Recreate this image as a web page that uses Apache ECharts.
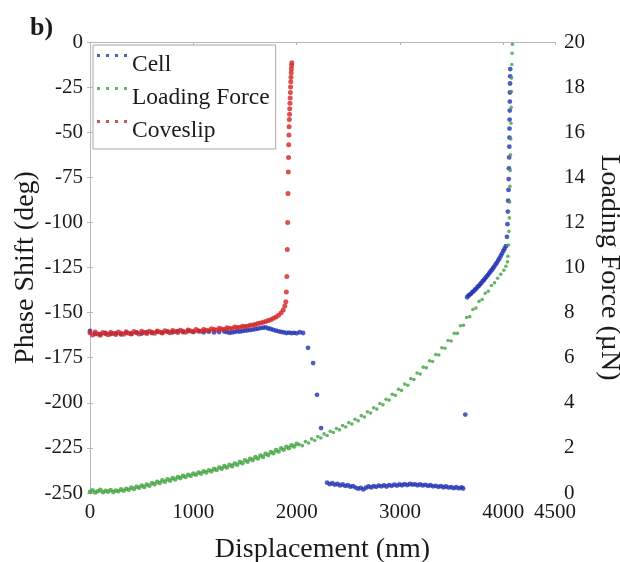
<!DOCTYPE html>
<html>
<head>
<meta charset="utf-8">
<script src="https://cdn.jsdelivr.net/npm/echarts@6/dist/echarts.min.js"></script>
<style>
html,body{margin:0;padding:0;background:#fff;overflow:hidden;}
#chart{width:620px;height:562px;}
</style>
</head>
<body>
<div id="chart"></div>
<script>
// ---------- data ----------
const seriesNames = ['Cell', 'Loading Force', 'Coveslip'];
const xTicks = [0, 1000, 2000, 3000, 4000, 4500];

// Coveslip (left axis, deg): flat band, then near-vertical rise
const slipBand = [
  [0,-161.2],[25,-162.4],[50,-160.8],[75,-161.9],[100,-162.6],[125,-161.0],[150,-161.7],[175,-162.3],
  [200,-160.9],[225,-161.6],[250,-162.1],[275,-160.7],[300,-161.4],[325,-162.0],[350,-160.6],[375,-161.5],
  [400,-161.9],[425,-160.5],[450,-161.2],[475,-161.8],[500,-160.4],[525,-161.1],[550,-161.6],[575,-160.3],
  [600,-160.9],[625,-161.5],[650,-160.2],[675,-160.8],[700,-161.3],[725,-160.1],[750,-160.6],[775,-161.2],
  [800,-159.9],[825,-160.5],[850,-161.0],[875,-159.8],[900,-160.3],[925,-160.9],[950,-159.6],[975,-160.2],
  [1000,-160.6],[1025,-159.4],[1050,-160.0],[1075,-160.4],[1100,-159.3],[1125,-159.8],[1150,-160.1],[1175,-159.0],
  [1200,-159.4],[1225,-159.7],[1250,-158.7],[1275,-159.1],[1300,-159.3],[1325,-158.4],[1350,-158.7],[1375,-158.9],
  [1400,-158.0],[1425,-158.2],[1450,-158.3],[1475,-157.6],[1500,-157.7],[1525,-157.6],[1550,-157.0],[1575,-156.9],
  [1600,-156.6],[1625,-156.1],[1650,-155.8],[1675,-155.4],[1700,-155.0],[1725,-154.4],[1750,-153.9],[1775,-153.2],
  [1800,-152.4],[1825,-151.4],[1850,-150.1],[1870,-148.6],[1885,-146.3]
];
const slipRise = [
  [1895,-144],[1900,-138.6],[1905,-130],[1909,-115],[1913,-100],[1916,-84],[1919,-72],[1921,-64],
  [1923,-57],[1925,-51.5],[1927,-47],[1929,-43],[1931,-40],[1933,-37],[1935,-34],[1937,-31],
  [1939,-28],[1941,-25],[1943,-22],[1945,-19.5],[1947,-17],[1949,-15],[1951,-13],[1953,-11.5]
];

// Cell (left axis, deg)
const cellFlat = [
  [0,-160.2],[50,-161.8],[100,-162.0],[150,-161.3],[200,-161.9],[250,-161.5],[300,-162.1],[350,-161.2],
  [400,-161.7],[450,-161.0],[500,-161.6],[550,-160.8],[600,-161.3],[650,-160.6],[700,-161.1],[750,-160.5],
  [800,-160.9],[850,-160.3],[900,-160.8],[950,-160.2],[1000,-160.7],[1050,-160.4],[1100,-160.9],[1150,-160.6],
  [1200,-161.0],[1250,-160.8],[1300,-160.5],[1325,-160.8],[1350,-161.2],[1375,-161.0],[1400,-160.7],[1425,-160.4],
  [1450,-160.6],[1475,-160.2],[1500,-160.0],[1525,-159.8],[1550,-159.7],[1575,-159.4],[1600,-159.2],[1625,-158.9],
  [1650,-158.6],[1675,-158.4],[1700,-158.2],[1725,-158.8],[1750,-159.1],[1775,-159.6],[1800,-160.0],[1825,-160.4],
  [1850,-160.7],[1875,-161.0],[1900,-161.3],[1925,-161.1],[1950,-161.4],[1975,-161.2],[2000,-161.5],[2030,-160.9],
  [2062,-161.3]
];
const cellDrop = [[2110,-169.5],[2159,-178],[2197,-195.6],[2236,-214]];
const cellBottom = [
  [2294,-244.3],[2320,-245.1],[2345,-244.6],[2370,-245.4],[2395,-245.0],[2420,-245.8],[2445,-245.3],[2470,-246.1],
  [2495,-245.7],[2520,-246.5],[2545,-246.2],[2570,-247.0],[2595,-247.6],[2620,-247.2],[2645,-248.0],[2670,-247.1],
  [2695,-246.4],[2720,-246.9],[2745,-246.2],[2770,-246.6],[2795,-245.9],[2820,-246.3],[2845,-245.8],[2870,-246.4],
  [2895,-245.6],[2920,-246.0],[2945,-245.4],[2970,-245.9],[2995,-245.3],[3020,-245.7],[3045,-245.1],[3070,-245.6],
  [3095,-245.0],[3120,-245.4],[3145,-245.2],[3170,-245.7],[3195,-245.3],[3220,-245.8],[3245,-245.5],[3270,-246.0],
  [3295,-245.7],[3320,-246.3],[3345,-246.0],[3370,-246.6],[3395,-246.2],[3420,-246.8],[3445,-246.4],[3470,-247.0],
  [3495,-246.7],[3520,-247.3],[3545,-246.8],[3570,-247.4],[3595,-246.9],[3611,-247.5]
];
const cellOutlier = [[3632,-206.5]];
const cellUpper = [
  [3650,-141.5],[3662,-140.6],[3675,-140.0],[3687,-139.6],[3700,-138.7],[3712,-138.2],[3725,-137.3],[3737,-136.8],
  [3750,-135.8],[3762,-135.2],[3775,-134.3],[3787,-133.6],[3800,-132.6],[3812,-131.9],[3825,-131.0],[3837,-130.1],
  [3850,-129.2],[3862,-128.3],[3875,-127.3],[3887,-126.5],[3900,-125.4],[3912,-124.5],[3925,-123.3],[3937,-122.4],
  [3950,-121.1],[3962,-120.0],[3975,-118.6],[3987,-117.3],[4000,-115.8],[4012,-114.6],[4025,-113.2]
];
const cellRise = [
  [4035,-108],[4040,-101],[4044,-94],[4047,-88],[4050,-82],[4052,-76],[4054,-70],[4056,-64],[4058,-58],
  [4059,-53],[4060,-48],[4061,-43],[4062,-38],[4063,-33],[4064,-28],[4065,-23],[4066,-19],[4067,-15]
];

// Loading Force (right axis, µN)
const forceLow = [
  [0,0.05],[25,0.12],[50,0.02],[75,0.08],[100,0.14],[125,0.03],[150,0.10],[175,0.06],[200,0.13],[225,0.04],
  [250,0.11],[275,0.08],[300,0.16],[325,0.10],[350,0.19],[375,0.14],[400,0.24],[425,0.18],[450,0.28],[475,0.23],
  [500,0.33],[525,0.27],[550,0.38],[575,0.32],[600,0.44],[625,0.39],[650,0.50],[675,0.44],[700,0.56],[725,0.50],
  [750,0.61],[775,0.55],[800,0.66],[825,0.60],[850,0.71],[875,0.66],[900,0.76],[925,0.71],[950,0.81],[975,0.76],
  [1000,0.86],[1025,0.81],[1050,0.91],[1075,0.86],[1100,0.96],[1125,0.91],[1150,1.01],[1175,0.96],[1200,1.07],[1225,1.02],
  [1250,1.13],[1275,1.08],[1300,1.19],[1325,1.13],[1350,1.25],[1375,1.19],[1400,1.31],[1425,1.25],[1450,1.38],[1475,1.32],
  [1500,1.45],[1525,1.39],[1550,1.52],[1575,1.46],[1600,1.59],[1625,1.53],[1650,1.66],[1675,1.60],[1700,1.74],[1725,1.68],
  [1750,1.82],[1775,1.76],[1800,1.90],[1825,1.84],[1850,1.98],[1875,1.92],[1900,2.05],[1925,1.99],[1950,2.12],[1975,2.06],
  [2000,2.18]
];
const forceMid = [
  [2025,2.15],[2055,2.10],[2085,2.28],[2115,2.22],[2145,2.40],[2175,2.33],[2205,2.50],[2235,2.44],[2265,2.62],[2295,2.55],
  [2325,2.74],[2355,2.68],[2385,2.86],[2415,2.80],[2445,2.99],[2475,2.93],[2505,3.12],[2535,3.06],[2565,3.27],[2595,3.20],
  [2625,3.43],[2655,3.37],[2685,3.60],[2715,3.55],[2745,3.78],[2775,3.72],[2805,3.97],[2835,3.91],[2865,4.16],[2895,4.12],
  [2925,4.38],[2955,4.33],[2985,4.60],[3015,4.55],[3045,4.83],[3075,4.78],[3105,5.07],[3135,5.03],[3165,5.32],[3195,5.28],
  [3225,5.58],[3255,5.55],[3285,5.86],[3315,5.83],[3345,6.14],[3375,6.12],[3405,6.44],[3435,6.42],[3465,6.76],[3495,6.74],
  [3525,7.08],[3555,7.08],[3585,7.42],[3615,7.44],[3645,7.78],[3675,7.82],[3705,8.14],[3735,8.20],[3765,8.50],[3795,8.58],
  [3825,8.86],[3855,8.95],[3885,9.20],[3915,9.32],[3945,9.52],[3975,9.70],[4005,9.88],[4025,10.05],[4040,10.25]
];
const forceRise = [
  [4045,10.5],[4050,11.0],[4054,11.6],[4058,12.2],[4061,12.9],[4064,13.6],[4067,14.3],[4070,15.0],
  [4072,15.7],[4074,16.4],[4076,17.1],[4078,17.8],[4080,18.4],[4082,19.0],[4085,19.5],[4088,19.9]
];

// ---------- chart ----------
const FONT = 'Liberation Serif';
const TXT = '#1a1a1a';
const AXC = '#b8b8b8';
const dotsIcon = 'path://M0 0h3v3h-3z M9 0h3v3h-3z M18 0h3v3h-3z M27 0h3v3h-3z M0 22L0.01 22';

const chart = echarts.init(document.getElementById('chart'), null, {renderer: 'canvas', width: 620, height: 562});
chart.setOption({
  animation: false,
  backgroundColor: '#ffffff',
  title: {
    text: 'b)', left: 25, top: 10,
    textStyle: {fontFamily: FONT, fontWeight: 'bold', fontSize: 26, color: TXT}
  },
  grid: {left: 90, right: 65, top: 42, bottom: 69, containLabel: false, outerBoundsMode: 'none'},
  legend: {
    data: seriesNames,
    orient: 'vertical', left: 93, top: 45,
    backgroundColor: '#fff', borderColor: '#a8a8a8', borderWidth: 1,
    padding: [8, 6, 6, 4],
    icon: dotsIcon, itemWidth: 30, itemHeight: 25, itemGap: 9, itemTextGap: 4,
    textStyle: {fontFamily: FONT, fontSize: 23.5, color: TXT}
  },
  xAxis: [{
    type: 'value', position: 'bottom', min: 0, max: 4500, interval: 1000,
    name: 'Displacement (nm)', nameLocation: 'middle', nameGap: 43, nameMoveOverlap: false,
    nameTextStyle: {fontFamily: FONT, fontSize: 28, color: TXT},
    axisLine: {show: false},
    axisTick: {show: true, length: 3, lineStyle: {color: AXC}},
    axisLabel: {fontFamily: FONT, fontSize: 21, color: TXT, margin: 9,
      formatter: function (v) { return String(v); }},
    splitLine: {show: false}
  }, {
    type: 'value', position: 'top', min: 0, max: 4500,
    axisLine: {show: true, onZero: false, lineStyle: {color: AXC, width: 1}},
    axisTick: {show: false}, axisLabel: {show: false}, splitLine: {show: false}
  }],
  yAxis: [{
    type: 'value', position: 'left', min: -250, max: 0, interval: 25,
    name: 'Phase Shift (deg)', nameLocation: 'middle', nameGap: 50, nameMoveOverlap: false,
    nameTextStyle: {fontFamily: FONT, fontSize: 28, color: TXT},
    axisLine: {show: true, onZero: false, lineStyle: {color: AXC, width: 1}},
    axisTick: {show: true, length: 3, lineStyle: {color: AXC}},
    axisLabel: {fontFamily: FONT, fontSize: 21, color: TXT, margin: 7},
    splitLine: {show: false}
  }, {
    type: 'value', position: 'right', min: 0, max: 20, interval: 2,
    name: 'Loading Force (µN)', nameLocation: 'middle', nameGap: 40, nameRotate: -90, nameMoveOverlap: false,
    nameTextStyle: {fontFamily: FONT, fontSize: 28, color: TXT},
    axisLine: {show: false},
    axisTick: {show: true, length: 3, lineStyle: {color: AXC}},
    axisLabel: {fontFamily: FONT, fontSize: 21, color: TXT, margin: 9},
    splitLine: {show: false}
  }],
  series: [
    {
      name: 'Cell', type: 'scatter', xAxisIndex: 0, yAxisIndex: 0,
      symbol: 'circle', symbolSize: 4.8,
      itemStyle: {color: '#2334b4'},
      data: [].concat(cellFlat, cellDrop, cellBottom, cellOutlier, cellUpper, cellRise)
    },
    {
      name: 'Loading Force', type: 'scatter', xAxisIndex: 0, yAxisIndex: 1,
      symbol: 'circle',
      symbolSize: function (v) { return v[0] <= 2000 ? 4.6 : 3.6; },
      itemStyle: {color: '#3fa33f'},
      data: [].concat(forceLow, forceMid, forceRise)
    },
    {
      name: 'Coveslip', type: 'scatter', xAxisIndex: 0, yAxisIndex: 0,
      symbol: 'circle', symbolSize: 5,
      itemStyle: {color: '#d42424'},
      data: [].concat(slipBand, slipRise)
    }
  ]
});
</script>
</body>
</html>
